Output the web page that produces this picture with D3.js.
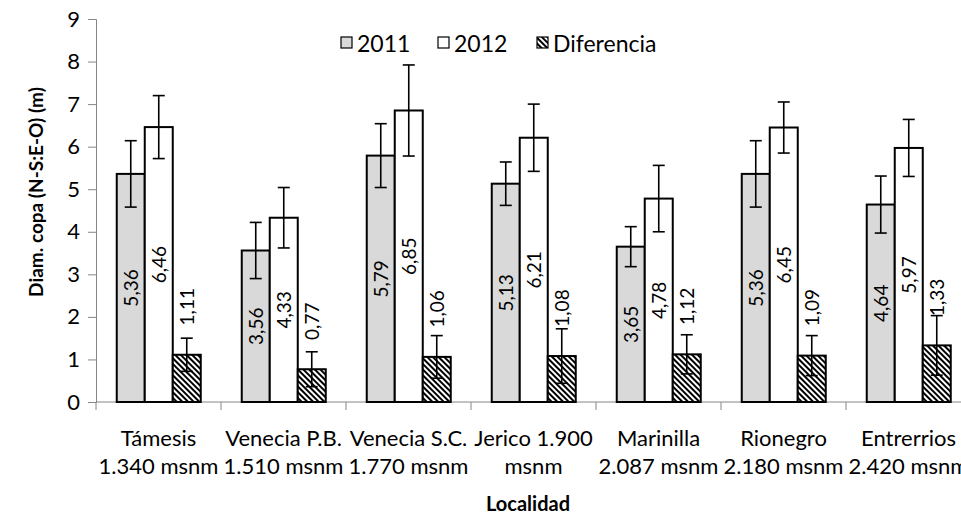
<!DOCTYPE html>
<html>
<head>
<meta charset="utf-8">
<script src="https://cdn.jsdelivr.net/npm/d3@7"></script>
<style>
  html, body { margin: 0; padding: 0; background: #fff; }
  svg { display: block; font-family: Lato, "Open Sans", sans-serif; }
</style>
</head>
<body>
<svg id="chart" width="961" height="514"></svg>
<script>
// Crown diameter (N-S:E-O) per locality, 2011 vs 2012 and their difference
const categories = [
  "Támesis\n1.340 msnm",
  "Venecia P.B.\n1.510 msnm",
  "Venecia S.C.\n1.770 msnm",
  "Jerico 1.900\nmsnm",
  "Marinilla\n2.087 msnm",
  "Rionegro\n2.180 msnm",
  "Entrerrios\n2.420 msnm"
];
const seriesNames = ["2011", "2012", "Diferencia"];
const values2011 = [5.36, 3.56, 5.79, 5.13, 3.65, 5.36, 4.64];
const values2012 = [6.46, 4.33, 6.85, 6.21, 4.78, 6.45, 5.97];
const valuesDif  = [1.11, 0.77, 1.06, 1.08, 1.12, 1.09, 1.33];
const err2011 = [0.78, 0.66, 0.75, 0.51, 0.47, 0.78, 0.67];
const err2012 = [0.74, 0.71, 1.07, 0.79, 0.78, 0.60, 0.67];
const errDif  = [0.39, 0.41, 0.50, 0.64, 0.46, 0.47, 0.70];
const yTicks = [0, 1, 2, 3, 4, 5, 6, 7, 8, 9];

const seriesValues = [values2011, values2012, valuesDif];
const seriesErrors = [err2011, err2012, errDif];

const svg = d3.select("#chart");
const plotLeft = 96, plotRight = 971, plotTop = 19, plotBottom = 402;

// hatch pattern for the difference series
const defs = svg.append("defs");
const pat = defs.append("pattern")
  .attr("id", "hatch")
  .attr("patternUnits", "userSpaceOnUse")
  .attr("width", 4).attr("height", 4)
  .attr("patternTransform", "rotate(-45)");
pat.append("rect").attr("width", 4).attr("height", 4).attr("fill", "#fff");
pat.append("rect").attr("width", 2).attr("height", 4).attr("fill", "#000");

const fills = ["#d9d9d9", "#ffffff", "url(#hatch)"];

const x = d3.scaleBand().domain(categories).range([plotLeft, plotRight]).padding(0);
const bw = x.bandwidth();
const xs = d3.scaleBand().domain(seriesNames).range([bw * 0.166, bw * 0.838]).padding(0);
const y = d3.scaleLinear().domain([0, 9]).range([plotBottom, plotTop]);

const fmt = v => v.toFixed(2).replace(".", ",");

// Y axis
const yAxis = svg.append("g")
  .attr("transform", `translate(${plotLeft},0)`)
  .call(d3.axisLeft(y).tickValues(yTicks).tickSize(8).tickPadding(8).tickFormat(d3.format("d")));
yAxis.select(".domain").attr("stroke", "#868686");
yAxis.selectAll(".tick line").attr("stroke", "#868686");
yAxis.selectAll(".tick text")
  .attr("font-size", 22).attr("fill", "#000")
  .attr("font-family", "Lato, sans-serif");

// X axis (ticks at category boundaries)
const xAxisG = svg.append("g").attr("transform", `translate(0,${plotBottom})`);
xAxisG.append("line")
  .attr("x1", plotLeft).attr("x2", plotRight).attr("y1", 0).attr("y2", 0)
  .attr("stroke", "#868686");
xAxisG.selectAll("line.tk")
  .data(categories.map(c => x(c)).concat([plotRight]))
  .join("line").attr("class", "tk")
  .attr("x1", d => d).attr("x2", d => d)
  .attr("y1", 0).attr("y2", 8)
  .attr("stroke", "#868686");
const xl = xAxisG.selectAll("text.cat")
  .data(categories)
  .join("text").attr("class", "cat")
  .attr("text-anchor", "middle")
  .attr("font-size", 22).attr("fill", "#000");
xl.each(function(c) {
  const t = d3.select(this);
  c.split("\n").forEach((line, i) => {
    t.append("tspan")
      .attr("x", x(c) + bw / 2)
      .attr("y", 44 + i * 28)
      .text(line);
  });
});

// Bars
const groups = svg.append("g").selectAll("g")
  .data(categories)
  .join("g")
  .attr("transform", c => `translate(${x(c)},0)`);

seriesNames.forEach((s, si) => {
  groups.append("rect")
    .attr("x", () => xs(s))
    .attr("y", (c, i) => y(seriesValues[si][i]))
    .attr("width", xs.bandwidth())
    .attr("height", (c, i) => plotBottom - y(seriesValues[si][i]))
    .attr("fill", fills[si])
    .attr("stroke", "#000")
    .attr("stroke-width", 2);
});

// Error bars
seriesNames.forEach((s, si) => {
  const cx = xs(s) + xs.bandwidth() / 2;
  const eg = groups.append("g");
  eg.append("line")
    .attr("x1", cx).attr("x2", cx)
    .attr("y1", (c, i) => y(seriesValues[si][i] + seriesErrors[si][i]))
    .attr("y2", (c, i) => y(seriesValues[si][i] - seriesErrors[si][i]))
    .attr("stroke", "#000").attr("stroke-width", 1.6);
  [1, -1].forEach(sign => {
    eg.append("line")
      .attr("x1", cx - 6).attr("x2", cx + 6)
      .attr("y1", (c, i) => y(seriesValues[si][i] + sign * seriesErrors[si][i]))
      .attr("y2", (c, i) => y(seriesValues[si][i] + sign * seriesErrors[si][i]))
      .attr("stroke", "#000").attr("stroke-width", 1.6);
  });
});

// Data labels (rotated)
seriesNames.forEach((s, si) => {
  const cx = xs(s) + xs.bandwidth() / 2;
  groups.append("text")
    .attr("transform", (c, i) => {
      const v = seriesValues[si][i];
      const cy = si < 2 ? (y(v) + plotBottom) / 2 : y(v) - 48;
      return `translate(${cx},${cy}) rotate(-90)`;
    })
    .attr("text-anchor", "middle")
    .attr("dominant-baseline", "central")
    .attr("font-size", 19).attr("fill", "#000")
    .text((c, i) => fmt(seriesValues[si][i]));
});

// Legend
const legendX = [341, 438, 537];
const legend = svg.append("g");
seriesNames.forEach((s, si) => {
  legend.append("rect")
    .attr("x", legendX[si]).attr("y", 37)
    .attr("width", 11).attr("height", 11)
    .attr("fill", fills[si]).attr("stroke", "#000").attr("stroke-width", 1.2);
  legend.append("text")
    .attr("x", legendX[si] + 16).attr("y", 43)
    .attr("dominant-baseline", "central")
    .attr("font-size", 23).attr("fill", "#000")
    .text(s);
});

// Axis titles
svg.append("text")
  .attr("transform", "translate(35,192) rotate(-90)")
  .attr("text-anchor", "middle")
  .attr("dominant-baseline", "central")
  .attr("font-size", 19).attr("font-weight", "bold").attr("fill", "#000")
  .text("Diam. copa (N-S:E-O) (m)");
svg.append("text")
  .attr("x", 528).attr("y", 503)
  .attr("text-anchor", "middle")
  .attr("dominant-baseline", "central")
  .attr("font-size", 20).attr("font-weight", "bold").attr("fill", "#000")
  .text("Localidad");
</script>
</body>
</html>
